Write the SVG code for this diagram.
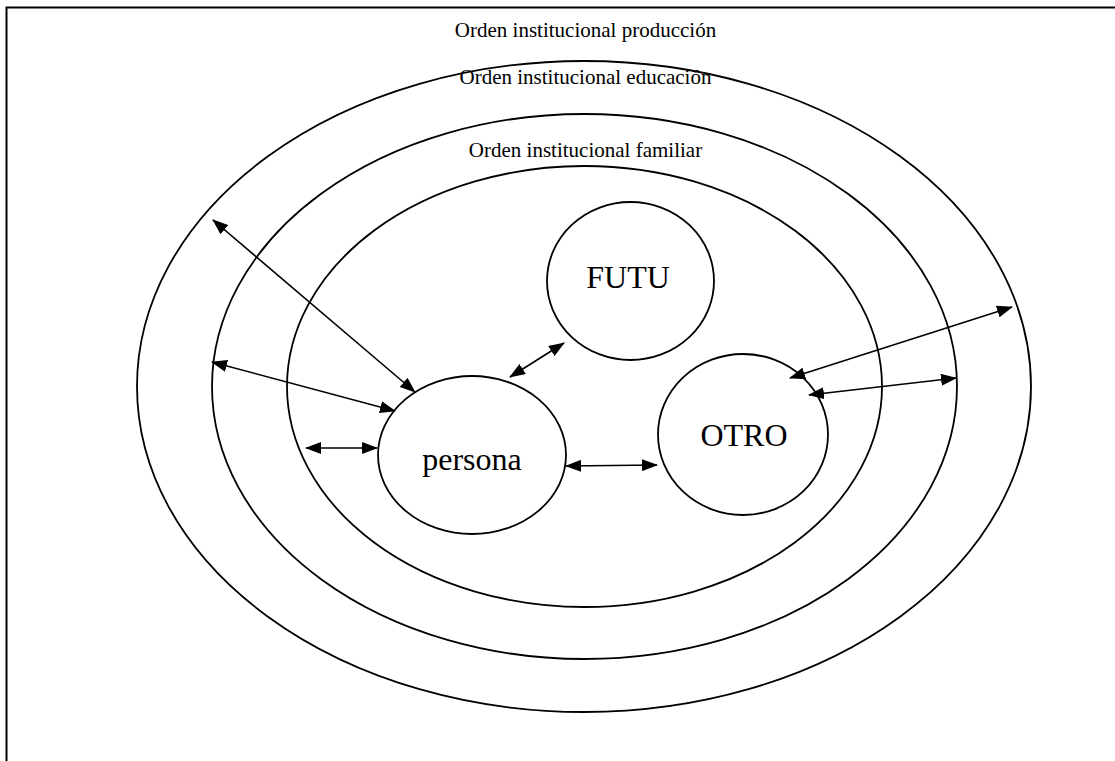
<svg xmlns="http://www.w3.org/2000/svg" width="1115" height="761" viewBox="0 0 1115 761">
  <style>
    .ring { fill: none; stroke: #000; stroke-width: 1.8; }
    .node { fill: #fff; stroke: #000; stroke-width: 1.8; }
    .lbl { font-family: "Liberation Serif", "Times New Roman", serif; font-size: 21px; fill: #000; text-anchor: middle; }
    .name { font-family: "Liberation Serif", "Times New Roman", serif; font-size: 32px; fill: #000; text-anchor: middle; }
    .conn line { stroke: #000; stroke-width: 1.6; marker-start: url(#head); marker-end: url(#head); }
  </style>
  <defs>
    <marker id="head" viewBox="0 0 16 12" refX="15" refY="6" markerWidth="16" markerHeight="12" markerUnits="userSpaceOnUse" orient="auto-start-reverse">
      <path d="M0,0 L16,6 L0,12 Z" fill="#000"/>
    </marker>
  </defs>
  <rect width="1115" height="761" fill="#fff"/>
  <!-- frame (right and bottom edges fall outside the page) -->
  <rect x="6.5" y="7.5" width="1200" height="900" fill="none" stroke="#000" stroke-width="2"/>

  <!-- institutional orders, outermost to innermost -->
  <g id="produccion">
    <ellipse class="ring" cx="584" cy="386.5" rx="447" ry="325.5"/>
    <text class="lbl" x="585.5" y="37">Orden institucional producción</text>
  </g>
  <g id="educacion">
    <ellipse class="ring" cx="584.5" cy="386.5" rx="372.5" ry="272.5"/>
    <text class="lbl" x="585.5" y="84">Orden institucional educación</text>
  </g>
  <g id="familiar">
    <ellipse class="ring" cx="584.5" cy="386.5" rx="297.5" ry="220.5"/>
    <text class="lbl" x="585.5" y="157">Orden institucional familiar</text>
  </g>

  <!-- inner nodes -->
  <g id="futu">
    <ellipse class="node" cx="630.5" cy="281" rx="83.5" ry="79"/>
    <text class="name" x="628" y="288">FUTU</text>
  </g>
  <g id="persona">
    <ellipse class="node" cx="472" cy="455" rx="94" ry="79"/>
    <text class="name" x="472" y="470">persona</text>
  </g>
  <g id="otro">
    <ellipse class="node" cx="743" cy="434.5" rx="85" ry="80.5"/>
    <text class="name" x="744" y="446">OTRO</text>
  </g>

  <!-- two-way connectors -->
  <g id="connectors" class="conn">
    <line x1="213" y1="220" x2="415" y2="392"/>
    <line x1="212" y1="362" x2="395" y2="411"/>
    <line x1="306" y1="448" x2="377" y2="448"/>
    <line x1="566" y1="466" x2="657" y2="465"/>
    <line x1="510" y1="377" x2="564" y2="343"/>
    <line x1="790" y1="378" x2="1012" y2="307"/>
    <line x1="809" y1="395" x2="956" y2="378"/>
  </g>
</svg>
